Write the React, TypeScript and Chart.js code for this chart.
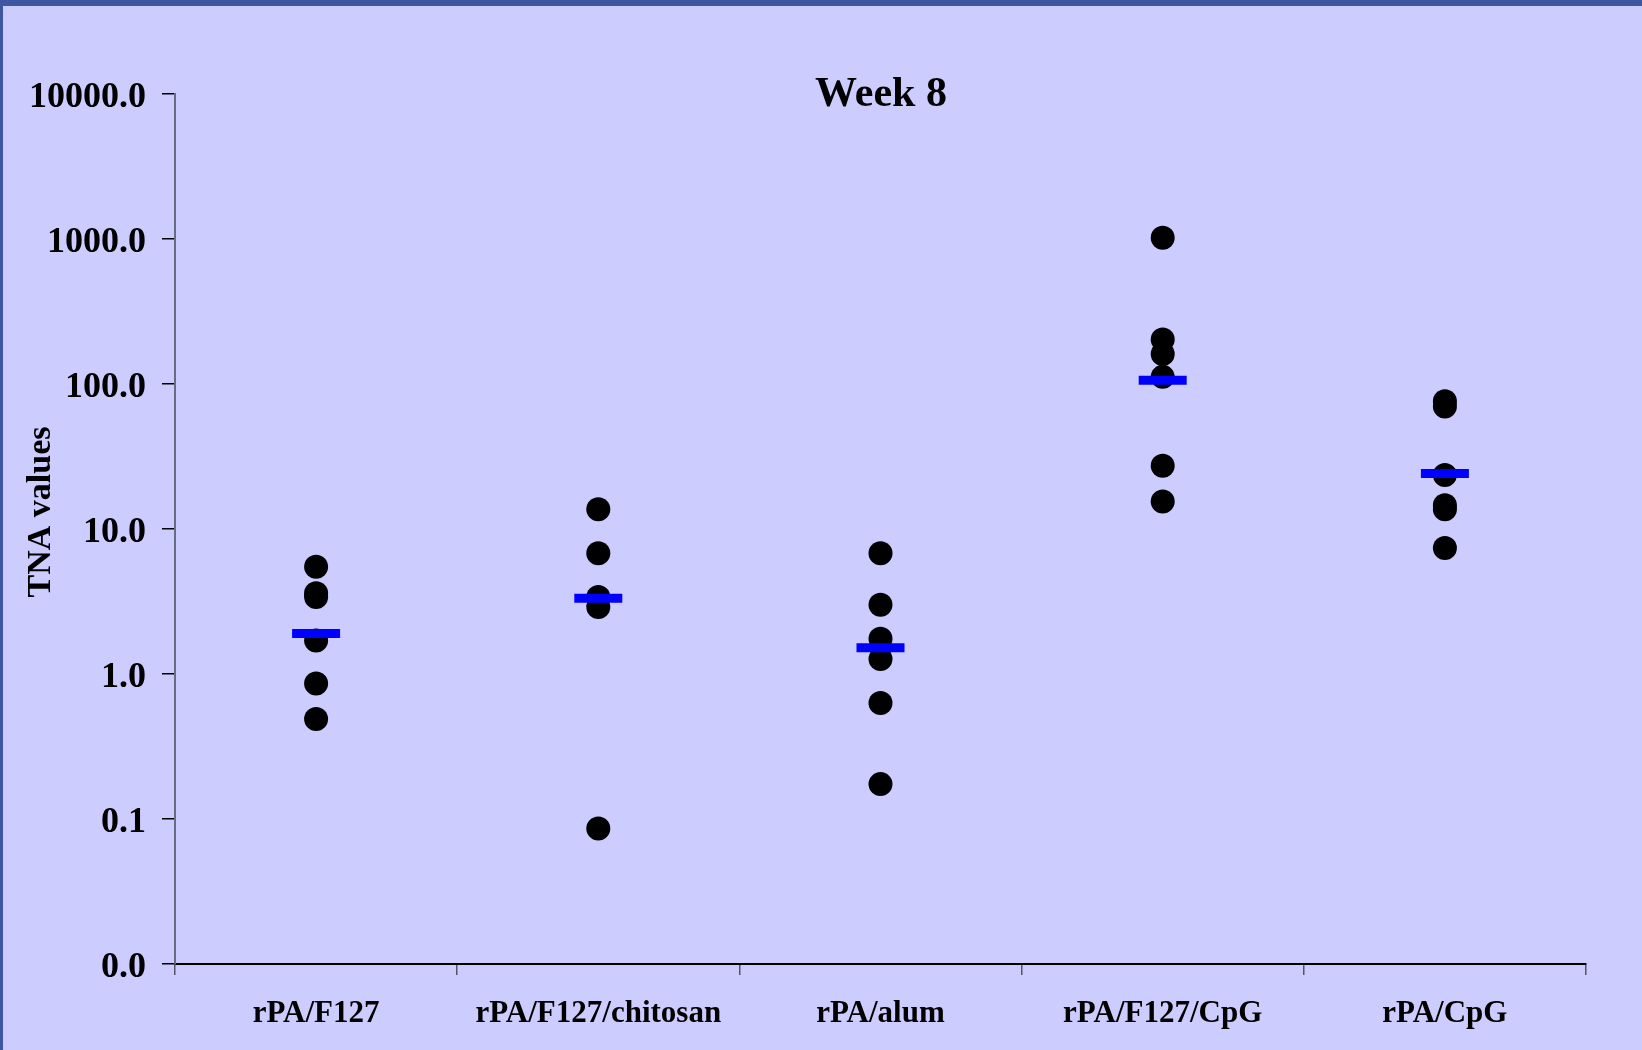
import React, { useEffect, useRef } from "react";
import { Chart, registerables } from "chart.js";

Chart.register(...registerables);

const categories = ["rPA/F127", "rPA/F127/chitosan", "rPA/alum", "rPA/F127/CpG", "rPA/CpG"];
const f127Values = [5.5, 3.6, 3.4, 1.7, 0.86, 0.49];
const chitosanValues = [13.7, 6.8, 3.4, 2.9, 0.086];
const alumValues = [6.8, 3.0, 1.75, 1.27, 0.63, 0.174];
const f127CpgValues = [1020, 203, 161, 112, 27.3, 15.5];
const cpgValues = [76, 70, 23.6, 14.6, 13.7, 7.4];
const meanValues = [1.9, 3.33, 1.52, 106, 24.1];
const yTickValues = [0.01, 0.1, 1, 10, 100, 1000, 10000];
const chartTitle = "Week 8";
const yAxisTitle = "TNA values";

const groups = [f127Values, chitosanValues, alumValues, f127CpgValues, cpgValues];
const FONT = "'Liberation Serif', 'Times New Roman', serif";

export default function App() {
  const ref = useRef<HTMLCanvasElement | null>(null);

  useEffect(() => {
    if (!ref.current) return;
    const dots: { x: string; y: number }[] = [];
    groups.forEach((g, i) => g.forEach((v) => dots.push({ x: categories[i], y: v })));
    const means = meanValues.map((v, i) => ({ x: categories[i], y: v }));

    const decor = {
      id: "decor",
      beforeDraw(chart: any) {
        const ctx = chart.ctx;
        ctx.save();
        ctx.fillStyle = "#CCCCFF";
        ctx.fillRect(0, 0, chart.width, chart.height);
        ctx.fillStyle = "#3F57A0";
        ctx.fillRect(0, 0, chart.width, 6);
        ctx.fillRect(0, 0, 3, chart.height);
        ctx.restore();
      },
      afterDraw(chart: any) {
        const ctx = chart.ctx;
        ctx.save();
        ctx.fillStyle = "#000";
        ctx.font = `bold 42px ${FONT}`;
        ctx.textAlign = "center";
        ctx.textBaseline = "alphabetic";
        ctx.fillText(chartTitle, 881, 106);
        ctx.translate(50, 512);
        ctx.rotate(-Math.PI / 2);
        ctx.font = `bold 34px ${FONT}`;
        ctx.fillText(yAxisTitle, 0, 0);
        ctx.restore();
      },
    };

    const chart = new Chart(ref.current, {
      type: "line",
      data: {
        labels: categories,
        datasets: [
          {
            label: "mean",
            data: means as any,
            showLine: false,
            pointStyle: "line",
            pointRadius: 24,
            pointBorderWidth: 9,
            pointBorderColor: "#0000FF",
            pointBackgroundColor: "#0000FF",
            pointHoverRadius: 24,
          },
          {
            label: "values",
            data: dots as any,
            showLine: false,
            pointStyle: "circle",
            pointRadius: 12,
            pointBorderWidth: 0,
            pointBackgroundColor: "#000000",
            pointBorderColor: "#000000",
            pointHoverRadius: 12,
          },
        ],
      },
      options: {
        responsive: false,
        animation: false,
        devicePixelRatio: 1,
        layout: { padding: { top: 94, right: 56, left: 0, bottom: 0 } },
        plugins: {
          legend: { display: false },
          title: { display: false },
          tooltip: { enabled: false },
        },
        scales: {
          x: {
            type: "category",
            offset: true,
            grid: {
              offset: true,
              drawOnChartArea: false,
              drawTicks: true,
              tickLength: 11,
              color: "#555566",
              lineWidth: 1.5,
            },
            border: { display: true, color: "#000000", width: 2 },
            ticks: {
              color: "#000",
              font: { family: FONT, size: 31, weight: "bold" },
              padding: 20,
              maxRotation: 0,
              autoSkip: false,
            },
            afterFit: (s: any) => {
              s.height = 86;
            },
          },
          y: {
            type: "logarithmic",
            min: 0.01,
            max: 10000,
            grid: {
              drawOnChartArea: false,
              drawTicks: true,
              tickLength: 13,
              color: "#000000",
              lineWidth: 1.5,
            },
            border: { display: true, color: "#6A6A80", width: 2 },
            ticks: {
              color: "#000",
              font: { family: FONT, size: 36, weight: "bold" },
              padding: 16,
              labelOffset: 4,
              autoSkip: false,
              callback: (v: any) => Number(v).toFixed(1),
            },
            afterBuildTicks: (s: any) => {
              s.ticks = yTickValues.map((v) => ({ value: v }));
            },
            afterFit: (s: any) => {
              s.width = 175;
            },
          },
        },
      },
      plugins: [decor],
    });
    return () => chart.destroy();
  }, []);

  return (
    <div style={{ position: "fixed", left: 0, top: 0, width: 1642, height: 1050 }}>
      <canvas ref={ref} width={1642} height={1050} style={{ display: "block", width: 1642, height: 1050 }} />
    </div>
  );
}
